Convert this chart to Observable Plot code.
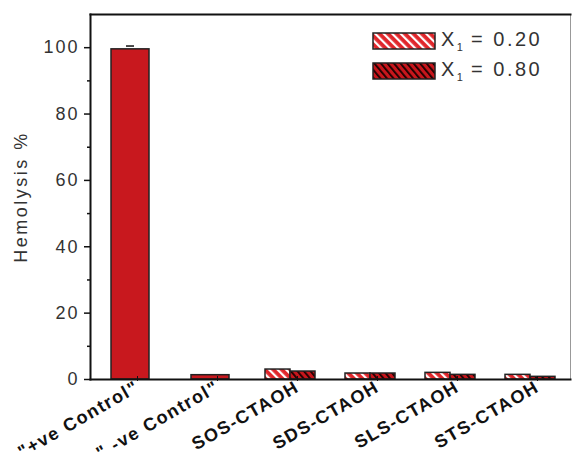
<!DOCTYPE html>
<html>
<head>
<meta charset="utf-8">
<script src="https://cdn.jsdelivr.net/npm/d3@7"></script>
<script src="https://cdn.jsdelivr.net/npm/@observablehq/plot@0.6"></script>
<style>
  html, body { margin: 0; padding: 0; background: #fff; }
  #wrap { position: relative; width: 573px; height: 466px; font-family: Arial, "Liberation Sans", sans-serif; }
  #wrap svg.chart { display: block; }
  .chart [aria-label="y-axis tick label"] text { letter-spacing: 2px; }
  .chart [aria-label="fx-axis tick label"] text { letter-spacing: 1.5px; }
  .chart [aria-label="y-axis label"] text { letter-spacing: 2.5px; }
  #legend { position: absolute; left: 372px; top: 31px; color: #333; font-size: 20px; letter-spacing: 2.5px; }
  #legend .row { display: flex; align-items: center; height: 19px; margin-bottom: 11px; }
  #legend svg { margin-right: 5px; }
  #legend sub { font-size: 11px; letter-spacing: 0; }
</style>
</head>
<body>
<svg width="0" height="0" style="position:absolute">
  <defs>
    <pattern id="p020" patternUnits="userSpaceOnUse" width="6" height="6" patternTransform="rotate(-45)">
      <rect width="6" height="6" fill="#e0262b"></rect>
      <rect width="2.2" height="6" fill="#ffffff"></rect>
    </pattern>
    <pattern id="p080" patternUnits="userSpaceOnUse" width="5" height="5" patternTransform="rotate(-40)">
      <rect width="5" height="5" fill="#c8161c"></rect>
      <rect width="1.8" height="5" fill="#1a0000"></rect>
    </pattern>
  </defs>
</svg>
<div id="wrap"></div>
<script>
const categories = ['"+ve Control"', '" -ve Control"', "SOS-CTAOH", "SDS-CTAOH", "SLS-CTAOH", "STS-CTAOH"];
const controlValues = [99.5, 1.3, null, null, null, null];
const controlErrors = [1.0, 0, null, null, null, null];
const series = ["0.20", "0.80"];
const valuesX020 = [null, null, 3.0, 1.8, 2.0, 1.4];
const valuesX080 = [null, null, 2.4, 1.8, 1.4, 0.8];
const yTicks = [0, 20, 40, 60, 80, 100];
const yMinorTicks = [10, 30, 50, 70, 90];
const yLabel = "Hemolysis %";

const controlRows = categories.map((c, i) => ({cat: c, value: controlValues[i], err: controlErrors[i]})).filter(d => d.value != null);
const rows020 = categories.map((c, i) => ({cat: c, series: series[0], value: valuesX020[i]})).filter(d => d.value != null);
const rows080 = categories.map((c, i) => ({cat: c, series: series[1], value: valuesX080[i]})).filter(d => d.value != null);
const errRows = controlRows.filter(d => d.err > 0);

const chart = Plot.plot({
  className: "chart",
  width: 573,
  height: 466,
  marginLeft: 89,
  marginRight: 2,
  marginTop: 14,
  marginBottom: 87,
  style: {fontFamily: 'Arial, "Liberation Sans", sans-serif', color: "#222", background: "#fff"},
  fx: {domain: categories, paddingInner: 0, paddingOuter: 0, label: null},
  x: {domain: series, paddingInner: 0, paddingOuter: 0.6, axis: null},
  y: {domain: [0, 110], label: null},
  marks: [
    Plot.barY(controlRows, {fx: "cat", y: "value", fill: "#c8181e", stroke: "#222", strokeWidth: 1.5, insetLeft: 21, insetRight: 21}),
    Plot.barY(rows020, {fx: "cat", x: "series", y: "value", fill: "url(#p020)", stroke: "#222", strokeWidth: 1.5}),
    Plot.barY(rows080, {fx: "cat", x: "series", y: "value", fill: "url(#p080)", stroke: "#222", strokeWidth: 1.5}),
    Plot.ruleX(errRows, {fx: "cat", y1: d => d.value - d.err, y2: d => d.value + d.err, stroke: "#111", strokeWidth: 1.5}),
    Plot.tickY(errRows, {fx: "cat", y: d => d.value + d.err, stroke: "#111", strokeWidth: 1.5, insetLeft: 36, insetRight: 36}),
    Plot.axisY({ticks: yTicks, tickSize: 6, tickPadding: 5, fontSize: 18, stroke: "#111", strokeWidth: 1.5, color: "#333",
      label: yLabel, labelAnchor: "center", labelArrow: "none", labelOffset: 76}),
    Plot.axisY({ticks: yMinorTicks, tickSize: 3, text: null, stroke: "#111", strokeWidth: 1.5, label: null}),
    Plot.axisFx({anchor: "bottom", tickRotate: -30, tickSize: 5, tickPadding: 4, fontSize: 18, fontWeight: "bold", color: "#111", label: null, dx: 7, dy: -3}),
    Plot.frame({facet: "super", stroke: "#999", strokeWidth: 1}),
    Plot.frame({facet: "super", anchor: "left", stroke: "#111", strokeWidth: 2}),
    Plot.frame({facet: "super", anchor: "top", stroke: "#111", strokeWidth: 2}),
    Plot.frame({facet: "super", anchor: "bottom", stroke: "#111", strokeWidth: 2})
  ]
});

const wrap = document.getElementById("wrap");
wrap.appendChild(chart);

const legend = document.createElement("div");
legend.id = "legend";
legend.innerHTML = series.map((s, i) => `
  <div class="row">
    <svg width="64" height="18"><rect x="1" y="1" width="62" height="16" fill="url(#${i === 0 ? "p020" : "p080"})" stroke="#222" stroke-width="1.5"></rect></svg>
    <span>X<sub>1</sub> = ${s}</span>
  </div>`).join("");
wrap.appendChild(legend);
</script>
</body>
</html>
